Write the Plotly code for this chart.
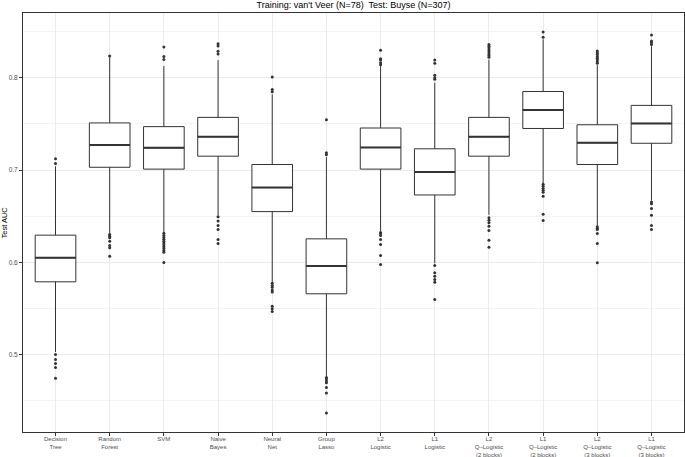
import plotly.graph_objects as go

categories = ["Decision<br>Tree", "Random<br>Forest", "SVM", "Naive<br>Bayes", "Neural<br>Net",
              "Group<br>Lasso", "L2<br>Logistic", "L1<br>Logistic",
              "L2<br>Q\u2013Logistic<br>(2 blocks)", "L1<br>Q\u2013Logistic<br>(2 blocks)",
              "L2<br>Q\u2013Logistic<br>(3 blocks)", "L1<br>Q\u2013Logistic<br>(3 blocks)"]

q1 = [0.579, 0.703, 0.701, 0.715, 0.655, 0.566, 0.701, 0.673, 0.715, 0.745, 0.706, 0.729]
median = [0.605, 0.727, 0.724, 0.736, 0.681, 0.596, 0.7245, 0.698, 0.736, 0.765, 0.7295, 0.7505]
q3 = [0.6295, 0.751, 0.747, 0.757, 0.706, 0.6255, 0.7455, 0.723, 0.757, 0.785, 0.749, 0.770]
lower_whisker = [0.503, 0.631, 0.633, 0.651, 0.578, 0.477, 0.634, 0.599, 0.6515, 0.6855, 0.6395, 0.667]
upper_whisker = [0.704, 0.822, 0.8126, 0.819, 0.782, 0.714, 0.8125, 0.7946, 0.8195, 0.8415, 0.8135, 0.834]

outliers = [
    [0.7071, 0.7122, 0.5002, 0.4949, 0.4905, 0.4862, 0.4746],
    [0.8234, 0.6302, 0.6284, 0.6267, 0.623, 0.6183, 0.6158, 0.6067],
    [0.8198, 0.8228, 0.8332, 0.6315, 0.629, 0.627, 0.625, 0.623, 0.621, 0.619, 0.617, 0.615, 0.613, 0.611, 0.600],
    [0.8256, 0.8285, 0.8342, 0.8368, 0.6494, 0.6447, 0.640, 0.6356, 0.6248, 0.6205],
    [0.7848, 0.7873, 0.8006, 0.5775, 0.575, 0.573, 0.570, 0.568, 0.5526, 0.5497, 0.5468],
    [0.7166, 0.7187, 0.7545, 0.4755, 0.4739, 0.4717, 0.4696, 0.4645, 0.4587, 0.437],
    [0.8141, 0.8162, 0.8191, 0.8206, 0.8296, 0.6325, 0.6313, 0.6291, 0.6248, 0.6194, 0.6075, 0.5977],
    [0.7982, 0.800, 0.8025, 0.8155, 0.8191, 0.5966, 0.5887, 0.585, 0.5815, 0.5786, 0.5598],
    [0.822, 0.824, 0.826, 0.828, 0.830, 0.832, 0.834, 0.836, 0.6483, 0.6457, 0.6429, 0.6392, 0.6346, 0.6241, 0.6165],
    [0.8437, 0.8494, 0.6845, 0.6825, 0.680, 0.678, 0.676, 0.6717, 0.6522, 0.6454],
    [0.8155, 0.817, 0.819, 0.821, 0.823, 0.825, 0.827, 0.829, 0.6385, 0.637, 0.6356, 0.6313, 0.6205, 0.5996],
    [0.8358, 0.838, 0.8397, 0.8462, 0.6653, 0.6635, 0.6584, 0.6511, 0.640, 0.6356],
]

y_ticks = [0.5, 0.6, 0.7, 0.8]
y_minor = [0.45, 0.55, 0.65, 0.75, 0.85]
title_text = "Training: van't Veer (N=78)  Test: Buyse (N=307)"
y_title = "Test AUC"

LINE = "#333333"
GRID = "#ebebeb"
FONT = "Liberation Sans, Arial, sans-serif"
BOX_W = 0.75

xpos = list(range(len(categories)))

fig = go.Figure()
fig.add_trace(go.Box(
    x=xpos, q1=q1, median=median, q3=q3,
    lowerfence=lower_whisker, upperfence=upper_whisker,
    width=BOX_W, fillcolor="white", line=dict(color=LINE, width=1),
    whiskerwidth=0, boxpoints=False, showlegend=False, hoverinfo="skip",
))

# thicker median lines (ggplot fatten)
mx, my = [], []
for i, m in zip(xpos, median):
    mx += [i - BOX_W / 2, i + BOX_W / 2, None]
    my += [m, m, None]
fig.add_trace(go.Scatter(x=mx, y=my, mode="lines", line=dict(color=LINE, width=2),
                         showlegend=False, hoverinfo="skip"))

ox, oy = [], []
for i, vals in zip(xpos, outliers):
    ox += [i] * len(vals)
    oy += vals
fig.add_trace(go.Scatter(x=ox, y=oy, mode="markers",
                         marker=dict(color=LINE, size=3, line=dict(width=0)),
                         showlegend=False, hoverinfo="skip"))

all_vals = [v for lst in outliers for v in lst] + lower_whisker + upper_whisker
ymin, ymax = min(all_vals), max(all_vals)
pad = (ymax - ymin) * 0.05

fig.update_layout(
    width=685, height=457,
    margin=dict(l=23, r=1, t=13, b=25, autoexpand=False),
    paper_bgcolor="white", plot_bgcolor="white",
    font=dict(family=FONT, color="black"),
    hovermode=False,
    title=dict(text=title_text, x=0.5, xref="paper", xanchor="center",
               y=1 - 5 / 457, yref="container", yanchor="middle", automargin=False,
               font=dict(size=9, color="black", family=FONT)),
    xaxis=dict(range=[-0.6, len(categories) - 0.4], tickmode="array", tickvals=xpos,
               ticktext=categories, showgrid=True, gridcolor=GRID, gridwidth=1,
               zeroline=False, showline=True, mirror=True, linecolor=LINE, linewidth=1,
               ticks="outside", ticklen=3, tickwidth=1, tickcolor=LINE, automargin=False,
               ticklabelstandoff=-2,
               tickfont=dict(size=6, color="#4d4d4d", family=FONT)),
    yaxis=dict(range=[ymin - pad, ymax + pad], tickmode="array", tickvals=y_ticks,
               ticktext=[f"{v:.1f}" for v in y_ticks], automargin=False,
               showgrid=True, gridcolor=GRID, gridwidth=1, zeroline=False,
               showline=True, mirror=True, linecolor=LINE, linewidth=1,
               ticks="outside", ticklen=3, tickwidth=1, tickcolor=LINE,
               tickfont=dict(size=6.5, color="#4d4d4d", family=FONT),
               minor=dict(tickvals=y_minor, showgrid=True, gridcolor=GRID, gridwidth=0.6, ticks="")),
    annotations=[dict(text=y_title, textangle=-90, x=0, xref="paper", xanchor="center",
                      xshift=-19, y=0.5, yref="paper", yanchor="middle", showarrow=False,
                      font=dict(size=7.5, color="black", family=FONT))],
)

fig.write_html("out.html", config={"displayModeBar": False, "staticPlot": True},
               post_script="document.body.style.margin='0px';document.body.style.padding='0px';")
